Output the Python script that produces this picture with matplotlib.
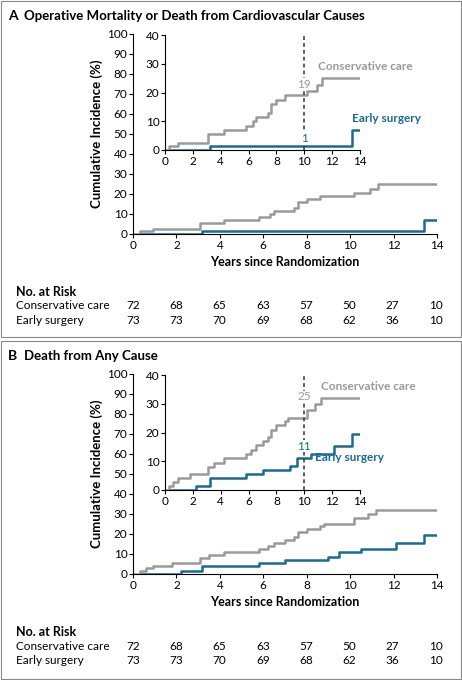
import matplotlib
matplotlib.use("Agg")
import matplotlib.pyplot as plt
from matplotlib.patches import Rectangle

plt.rcParams['font.family'] = ['Lato', 'DejaVu Sans']

GRAY = '#9a9a9a'
BLUE = '#1a6b91'
W, H = 462, 680

# Panel A data (step times, cumulative incidence %)
a_cons_t = [0, 0.3, 0.9, 3.1, 4.2, 5.8, 6.3, 6.5, 7.4, 7.6, 8.0, 8.6, 10.2, 10.9, 11.3, 14]
a_cons_y = [0, 1.3, 2.5, 5.5, 7.0, 8.5, 10.0, 11.5, 13.0, 16.0, 17.5, 19.0, 20.5, 22.5, 25.0, 25.0]
a_surg_t = [0.4, 3.2, 13.4, 14]
a_surg_y = [0, 1.4, 6.9, 6.9]
# Panel B data
b_cons_t = [0, 0.3, 0.6, 0.9, 1.8, 3.1, 3.5, 4.2, 5.8, 6.2, 6.5, 7.0, 7.4, 7.6, 8.0, 8.6, 8.8, 10.2, 10.8, 11.2, 14]
b_cons_y = [0, 1.4, 2.8, 4.2, 5.5, 8.0, 9.5, 11.0, 12.5, 14.0, 15.5, 17.0, 18.5, 21.0, 22.5, 24.0, 25.0, 28.0, 30.0, 32.0, 32.0]
b_surg_t = [0.4, 2.2, 3.2, 5.8, 7.0, 9.0, 9.5, 10.5, 12.1, 13.4, 14]
b_surg_y = [0, 1.4, 4.2, 5.6, 7.0, 8.4, 11.2, 12.6, 15.4, 19.6, 19.6]

risk_cons = [72, 68, 65, 63, 57, 50, 27, 10]
risk_surg = [73, 73, 70, 69, 68, 62, 36, 10]
ticks_x = [0, 2, 4, 6, 8, 10, 12, 14]

fig = plt.figure(figsize=(W/100, H/100), dpi=100)

def ax_px(x0, x1, y_top, y_bot):
    return fig.add_axes([x0/W, 1 - y_bot/H, (x1-x0)/W, (y_bot-y_top)/H])

def style(ax, fs=8.5):
    for s in ['top', 'right']:
        ax.spines[s].set_visible(False)
    ax.tick_params(direction='out', length=3, labelsize=fs, pad=1)
    ax.patch.set_alpha(0)

panels = [
    dict(letter='A', title='Operative Mortality or Death from Cardiovascular Causes', top=0, bot=338,
         ct=a_cons_t, cy=a_cons_y, st=a_surg_t, sy=a_surg_y, lab=('19', 21.0, '1', 2.2),
         cons_lab=(11.0, 27.0), surg_lab=(13.4, 9.0, 'left')),
    dict(letter='B', title='Death from Any Cause', top=340, bot=680,
         ct=b_cons_t, cy=b_cons_y, st=b_surg_t, sy=b_surg_y, lab=('25', 30.5, '11', 13.3),
         cons_lab=(11.2, 34.0), surg_lab=(10.8, 9.5, 'left')),
]

for p in panels:
    o = p['top']
    fig.patches.append(Rectangle((1/W, 1-(p['bot']-1)/H), (W-2)/W, (p['bot']-o-2)/H,
                                 transform=fig.transFigure, fill=False, ec='#888888', lw=0.8))
    fig.text(8/W, 1-(o+16)/H, p['letter'], fontsize=10, fontweight='bold', va='center')
    fig.text(24/W, 1-(o+16)/H, p['title'], fontsize=9.5, fontweight='bold', va='center')

    ax = ax_px(133, 437, o+34, o+234)
    style(ax)
    ax.step(p['ct'], p['cy'], where='post', color=GRAY, lw=1.8)
    ax.step(p['st'], p['sy'], where='post', color=BLUE, lw=1.8)
    ax.set_xlim(0, 14); ax.set_ylim(0, 100)
    ax.set_xticks(ticks_x); ax.set_yticks(range(0, 101, 10))
    ax.set_ylabel('Cumulative Incidence (%)', fontsize=9.5, fontweight='bold', labelpad=3)
    ax.set_xlabel('Years since Randomization', fontsize=9, fontweight='bold', labelpad=4)

    ia = ax_px(165, 360, o+35, o+150)
    style(ia)
    ia.step(p['ct'], p['cy'], where='post', color=GRAY, lw=1.8)
    ia.step(p['st'], p['sy'], where='post', color=BLUE, lw=1.8)
    ia.set_xlim(0, 14); ia.set_ylim(0, 40)
    ia.set_xticks(ticks_x); ia.set_yticks(range(0, 41, 10))
    ia.axvline(10, ymin=0, ymax=1, color='#333333', ls=(0, (2.5, 2)), lw=1.1)
    l1, y1, l2, y2 = p['lab']
    ia.text(10, y1, l1, color=GRAY, fontsize=8.5, ha='center', va='bottom',
            bbox=dict(fc='white', ec='none', pad=0.3))
    ia.text(10, y2, l2, color=BLUE, fontsize=8.5, ha='center', va='bottom',
            bbox=dict(fc='white', ec='none', pad=0.3))
    ia.text(*p['cons_lab'], 'Conservative care', color=GRAY, fontsize=8.5, fontweight='bold',
            ha='left', va='bottom', clip_on=False)
    sx, syy, ha = p['surg_lab']
    ia.text(sx, syy, 'Early surgery', color=BLUE, fontsize=8.5, fontweight='bold',
            ha=ha, va='bottom', clip_on=False)

    fig.text(16/W, 1-(o+292)/H, 'No. at Risk', fontsize=9, fontweight='bold', va='center')
    fig.text(16/W, 1-(o+306)/H, 'Conservative care', fontsize=8.5, va='center')
    fig.text(16/W, 1-(o+320)/H, 'Early surgery', fontsize=8.5, va='center')
    for i, (c, s) in enumerate(zip(risk_cons, risk_surg)):
        xpx = 133 + i*43.3
        fig.text(xpx/W, 1-(o+306)/H, str(c), fontsize=8.5, va='center', ha='center')
        fig.text(xpx/W, 1-(o+320)/H, str(s), fontsize=8.5, va='center', ha='center')

fig.savefig('out.png', dpi=100)
